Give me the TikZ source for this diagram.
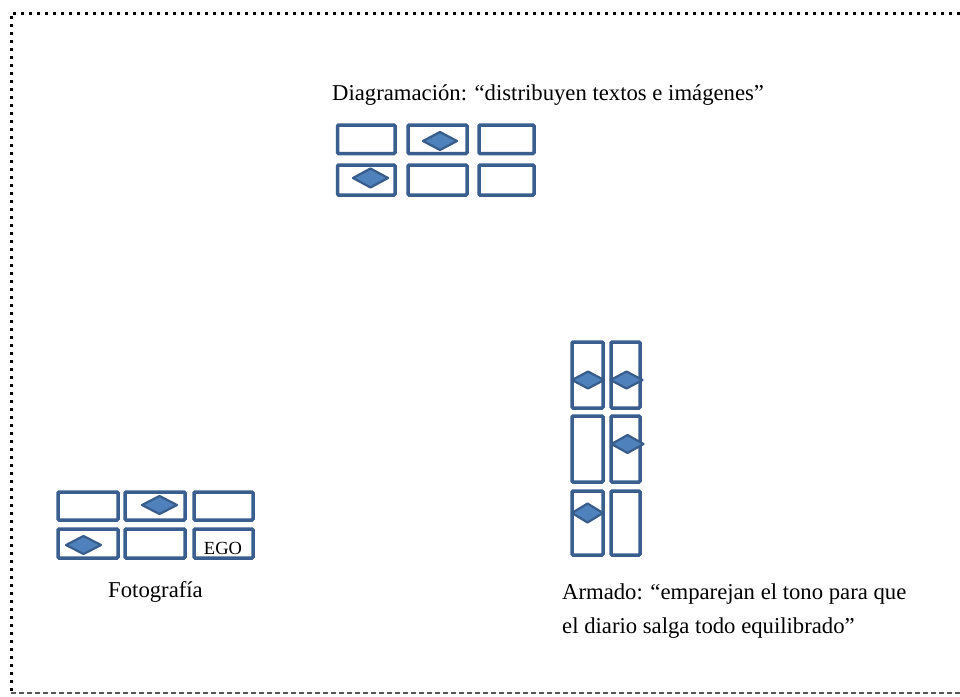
\documentclass[tikz,border=0pt]{standalone}
\usepackage{fontspec}
\setmainfont{Liberation Serif}
\definecolor{boxc}{HTML}{3A5F8F}
\definecolor{diafill}{HTML}{4F81BD}
\definecolor{diaedge}{HTML}{385D8A}
\newcommand{\gemat}[4]{\draw[gem] (#1-#3/2,#2) -- (#1,#2-#4/2) -- (#1+#3/2,#2) -- (#1,#2+#4/2) -- cycle;}
\begin{document}
\begin{tikzpicture}[x=1pt,y=-1pt,
 cell/.style={draw=boxc, line width=3.5pt, rounded corners=1.2pt, fill=white},
 gem/.style={draw=diaedge, line width=2.2pt, fill=diafill, line join=round},
 lbl/.style={font=\fontsize{22.7}{26}\selectfont, inner sep=0pt, anchor=base west},
 small/.style={font=\fontsize{18.5}{22}\selectfont, inner sep=0pt, anchor=base},
 dotborder/.style={line width=3pt, dash pattern=on 3pt off 5pt, black},
 dashborder/.style={line width=2.5pt, dash pattern=on 5pt off 3pt, black!65},
 ]
\useasboundingbox (0,0) rectangle (960,696);
% border
\draw[dotborder] (960,13) -- (11,13) -- (11,693);
\draw[dashborder] (11,693) -- (960,693);

% top group: Diagramacion
\draw[cell] (337.5,125) rectangle (395,153.5);
\draw[cell] (408,125) rectangle (467,153.5);
\draw[cell] (479,125) rectangle (534,153.5);
\draw[cell] (337.5,165) rectangle (395,195);
\draw[cell] (408,165) rectangle (467,195);
\draw[cell] (479,165) rectangle (534,195);
\gemat{440}{141}{34}{18}
\gemat{370.5}{178}{35}{19}
\node[lbl] (diag) at (332,100) {Diagramación: “distribuyen textos e imágenes”};

% left group: Fotografia
\draw[cell] (58,492) rectangle (118,520);
\draw[cell] (125,492) rectangle (185,520);
\draw[cell] (194,492) rectangle (253,520);
\draw[cell] (58,529) rectangle (118,558);
\draw[cell] (125,529) rectangle (185,558);
\draw[cell] (194,529) rectangle (253,558);
\gemat{159.5}{505}{35}{18}
\gemat{83.5}{545}{35}{18}
\node[small] (ego) at (223,554) {EGO};
\node[lbl, anchor=base] (foto) at (155.5,597) {Fotografía};

% right group: Armado
\draw[cell] (572,342) rectangle (603,408);
\draw[cell] (611,342) rectangle (640,408);
\draw[cell] (572,416) rectangle (603,482);
\draw[cell] (611,416) rectangle (640,482);
\draw[cell] (572,491) rectangle (603,555);
\draw[cell] (611,491) rectangle (640,555);
\gemat{588}{380}{32}{17}
\gemat{626.5}{380}{32}{17}
\gemat{627.5}{444}{32}{18}
\gemat{587.5}{513}{31}{19}
\node[lbl] (arm1) at (562,599) {Armado: “emparejan el tono para que};
\node[lbl] (arm2) at (562,633) {el diario salga todo equilibrado”};
\end{tikzpicture}
\end{document}
